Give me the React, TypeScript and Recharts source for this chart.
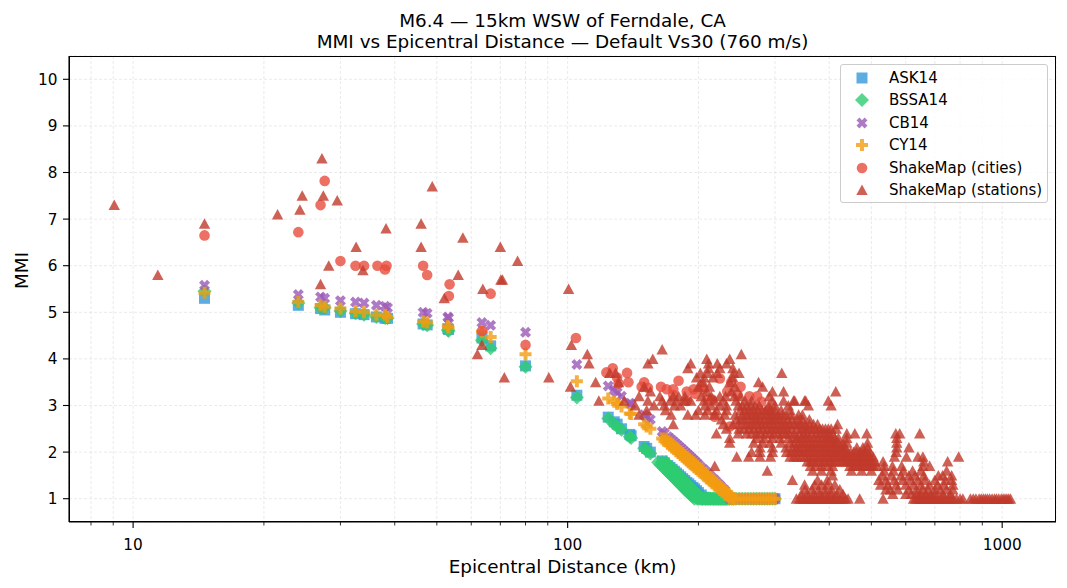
import { CartesianGrid, Scatter, ScatterChart, XAxis, YAxis } from 'recharts';

const FONT = '"DejaVu Sans", sans-serif';

const xTicks = [8, 9, 10, 20, 30, 40, 50, 60, 70, 80, 90, 100, 200, 300, 400, 500, 600, 700, 800, 900, 1000];
const xLabels = [10, 100, 1000];
const yTicks = [1, 2, 3, 4, 5, 6, 7, 8, 9, 10];

const modelDistances = [
  14.6, 24, 27, 27.6, 30, 32.5, 34, 36.3, 38, 38.5, 46.5, 47.5, 53, 53.2, 63.5, 66.5, 80, 105, 124, 128, 130, 133, 139,
  140, 150, 152, 155, 165, 167, 170, 172, 174, 176, 178, 180, 182, 184, 186, 188, 190, 192, 194, 196, 198, 200, 203,
  206, 209, 212, 215, 218, 221, 224, 227, 230, 233, 236, 240, 244, 248, 252, 256, 260, 264, 268, 272, 276, 280, 284,
  288, 292, 296, 300,
];
// the steep part of the curves is a band, sites at about the same distance scatter a little
const bandNear = [
  161.5, 163.5, 166.5, 168.4, 170.4, 172.3, 174.3, 176.2, 178.2, 180.1, 182.1, 184.1, 186, 188, 189.9, 191.9, 193.9,
  195.8, 198.7, 201.7, 204.6, 207.6, 210.5, 213.4, 216.4, 219.3, 222.2, 225.2, 228.1, 231,
];
const bandFar = [
  168.5, 170.5, 173.6, 175.6, 177.7, 179.7, 181.7, 183.8, 185.8, 187.9, 189.9, 192, 194, 196, 198.1, 200.1, 202.2, 204.2,
  207.3, 210.3, 213.4, 216.5, 219.5, 222.6, 225.6, 228.7, 231.8, 234.8, 237.9, 241,
];
const ask14 = [
  5.3, 5.15, 5.08, 5.05, 5.0, 4.97, 4.95, 4.9, 4.87, 4.87, 4.75, 4.73, 4.65, 4.63, 4.45, 4.28, 3.85, 3.22, 2.75, 2.65,
  2.6, 2.5, 2.38, 2.35, 2.12, 2.08, 2.0, 1.81, 1.77, 1.71, 1.67, 1.63, 1.59, 1.55, 1.51, 1.47, 1.43, 1.39, 1.35, 1.32,
  1.28, 1.24, 1.21, 1.17, 1.13, 1.08, 1.03, 1, 1, 1, 1, 1, 1, 1, 1, 1, 1, 1, 1, 1, 1, 1, 1, 1, 1, 1, 1, 1, 1, 1, 1, 1, 1,
];
const bssa14 = [
  5.45, 5.2, 5.1, 5.1, 5.03, 4.98, 4.95, 4.9, 4.88, 4.87, 4.75, 4.72, 4.62, 4.6, 4.4, 4.23, 3.83, 3.17, 2.72, 2.6, 2.55,
  2.48, 2.33, 2.3, 2.08, 2.03, 1.97, 1.78, 1.73, 1.66, 1.61, 1.56, 1.52, 1.47, 1.43, 1.38, 1.33, 1.29, 1.25, 1.2, 1.16,
  1.12, 1.08, 1.04, 1, 1, 1, 1, 1, 1, 1, 1, 1, 1, 1, 1, 1, 1, 1, 1, 1, 1, 1, 1, 1, 1, 1, 1, 1, 1, 1, 1, 1,
];
const cb14 = [
  5.58, 5.38, 5.33, 5.3, 5.25, 5.22, 5.2, 5.15, 5.13, 5.1, 5.0, 4.98, 4.9, 4.88, 4.78, 4.72, 4.57, 3.88, 3.42, 3.33,
  3.28, 3.2, 3.05, 3.03, 2.8, 2.75, 2.7, 2.44, 2.4, 2.33, 2.29, 2.25, 2.21, 2.17, 2.13, 2.09, 2.05, 2.01, 1.97, 1.93,
  1.89, 1.85, 1.81, 1.77, 1.73, 1.67, 1.62, 1.56, 1.51, 1.45, 1.4, 1.34, 1.29, 1.23, 1.18, 1.09, 1, 1, 1, 1, 1, 1, 1, 1,
  1, 1, 1, 1, 1, 1, 1, 1, 1,
];
const cy14 = [
  5.42, 5.22, 5.15, 5.12, 5.08, 5.03, 5.0, 4.95, 4.95, 4.9, 4.8, 4.78, 4.7, 4.67, 4.58, 4.47, 4.1, 3.52, 3.15, 3.08,
  3.03, 2.98, 2.83, 2.82, 2.6, 2.55, 2.5, 2.29, 2.24, 2.18, 2.14, 2.1, 2.06, 2.02, 1.98, 1.94, 1.9, 1.86, 1.82, 1.78,
  1.75, 1.71, 1.67, 1.64, 1.6, 1.55, 1.49, 1.44, 1.39, 1.34, 1.29, 1.24, 1.19, 1.15, 1.1, 1.05, 1, 1, 1, 1, 1, 1, 1, 1,
  1, 1, 1, 1, 1, 1, 1, 1, 1,
];

const cities: [number, number][] = [
  [14.6, 6.65], [24, 6.72], [27, 7.3], [27.6, 7.82], [30, 6.1], [32.5, 6.0], [34, 6.0], [36.5, 6.0], [38, 5.92],
  [38.3, 6.0], [46.5, 6.0], [47.5, 5.8], [53.5, 5.6], [53.3, 5.35], [63.5, 4.6], [66.5, 5.4], [80, 4.3], [104.5, 4.45],
  [122.8, 3.71], [127, 3.8], [130, 3.6], [131, 3.47], [137, 3.7], [138, 3.5], [148, 3.4], [150, 3.5], [153, 3.38],
  [164, 3.4], [169, 3.35], [175, 3.35], [175, 3.23], [180, 3.53], [188, 3.3], [188, 3.1], [195, 3.35], [197, 3.25],
  [203, 3.4], [205, 3.35], [210, 3.13], [215, 3.13], [218, 2.76], [224, 3.58], [233, 3.3], [236, 2.55], [238, 3.5],
  [246, 3.23], [250, 3.4], [262, 3.2], [273, 3.2], [279, 3.08], [291, 2.9],
];

const earlyStations: [number, number][] = [
  [9.05, 7.3], [11.4, 5.8], [14.6, 6.9], [21.5, 7.1], [24.2, 7.2], [24.5, 7.5], [27, 5.6], [27.2, 8.3], [27.4, 7.5],
  [28.2, 6.0], [29.5, 7.4], [32.6, 6.4], [33.8, 5.9], [38.2, 6.8], [46, 6.9], [46, 6.4], [48.8, 7.7], [52, 5.3],
  [56, 5.8], [57.4, 6.6], [62, 4.1], [63.5, 4.3], [63.8, 5.5], [70, 6.4], [70.2, 5.7], [70.8, 5.7], [76.7, 6.1],
  [100.5, 5.5], [102, 4.3], [165, 4.2], [111, 4.1], [251, 4.1],
];

const stationRows: [number, number[]][] = [
  [4.0, [157, 209, 236]],
  [3.9, [112, 153, 192, 211, 221, 232]],
  [3.8, [189, 211, 224, 240]],
  [3.7, [125, 129, 202, 210, 221, 241, 248, 311]],
  [3.6, [71.5, 90.5, 198, 206, 216, 240]],
  [3.5, [116, 131, 205, 236, 275]],
  [3.4, [101.5, 150, 200, 212, 243, 281]],
  [3.3, [155, 209, 238, 296, 314, 414]],
  [3.2, [146, 163, 175, 180, 186, 203, 214, 224, 231, 242, 250, 291]],
  [3.1, [118, 135, 153, 165, 172, 178, 186, 192, 206, 218, 228, 244, 256, 265, 296, 314, 331, 333, 351, 353, 398]],
  [3.0, [143, 158, 167, 176, 182, 207, 214, 224, 232, 247, 252, 258, 264, 270, 276, 290, 300, 322, 358, 404]],
  [2.9, [152, 168, 200, 210, 220, 232, 250, 256, 262, 268, 274, 280, 285, 292, 300, 310, 325]],
  [2.8, [146, 173, 189, 197, 207, 218, 230, 243, 252, 257, 262, 267, 272, 278, 285, 290, 295, 300, 305, 312, 318, 327, 340, 347]],
  [2.7, [226, 245, 250, 255, 262, 268, 273, 278, 284, 290, 295, 300, 306, 312, 320, 328, 338, 347, 360]],
  [2.6, [175, 228, 240, 248, 256, 262, 268, 274, 280, 286, 292, 298, 305, 312, 318, 325, 332, 338, 345, 352, 360, 368, 376, 418]],
  [2.5, [232, 248, 255, 262, 268, 275, 281, 288, 294, 300, 306, 312, 319, 326, 338, 345, 352, 358, 365, 372, 380, 386, 392, 398, 404, 415]],
  [2.4, [220, 247, 258, 265, 272, 278, 285, 292, 298, 305, 312, 318, 324, 332, 342, 350, 356, 365, 374, 382, 390, 398, 407, 439, 458, 488, 569, 581, 646]],
  [2.3, [236, 272, 283, 296, 308, 322, 333, 338, 345, 352, 360, 368, 376, 384, 392, 398, 405, 412, 420, 439, 572]],
  [2.2, [236, 268, 281, 292, 310, 325, 332, 340, 346, 352, 359, 366, 373, 380, 387, 394, 401, 408, 414, 420, 430, 439, 490, 572]],
  [2.1, [277, 296, 318, 330, 336, 342, 349, 356, 362, 368, 375, 382, 389, 396, 403, 410, 417, 424, 430, 436, 463, 478, 490, 572, 610]],
  [2.0, [265, 277, 296, 319, 326, 333, 340, 346, 352, 358, 365, 372, 379, 386, 393, 400, 407, 414, 421, 428, 434, 440, 448, 455, 462, 470, 476, 482, 489, 496, 570]],
  [1.9, [245, 261, 277, 293, 325, 332, 338, 345, 352, 359, 366, 373, 380, 387, 394, 401, 408, 415, 422, 429, 435, 441, 448, 455, 462, 469, 476, 483, 490, 497, 505, 565, 602, 640, 657, 794]],
  [1.8, [356, 362, 368, 375, 382, 389, 396, 403, 410, 417, 425, 432, 438, 444, 450, 457, 465, 472, 480, 487, 495, 502, 510, 532, 660, 749]],
  [1.7, [218, 362, 372, 384, 396, 407, 446, 453, 460, 468, 475, 482, 490, 498, 505, 515, 535, 559, 587, 657, 681]],
  [1.6, [288, 366, 384, 404, 450, 475, 500, 535, 562, 592, 622, 650, 745]],
  [1.5, [407, 530, 555, 585, 610, 630, 660, 713, 729, 765]],
  [1.4, [329, 376, 396, 520, 540, 565, 590, 615, 640, 664, 700, 740, 765]],
  [1.3, [351, 370, 384, 396, 412, 525, 545, 570, 600, 625, 650, 680, 710, 735, 770]],
  [1.2, [352, 365, 378, 392, 405, 423, 540, 552, 575, 610, 635, 655, 675, 700, 720, 745, 770]],
  [1.1, [345, 356, 368, 380, 392, 404, 416, 430, 560, 600, 618, 635, 650, 668, 685, 700, 730, 760]],
  [1.0, [
    336, 342, 347, 351, 356, 360, 365, 369, 374, 379, 383, 388, 393, 398, 403, 408, 413, 418, 424, 430, 436, 442, 470,
    532, 625, 632, 640, 648, 655, 662, 670, 678, 686, 694, 702, 712, 722, 730, 740, 752, 762, 772, 785, 800, 812, 845,
    858, 870, 885, 895, 905, 915, 925, 936, 948, 960, 970, 982, 995, 1005, 1015, 1025, 1035, 1045,
  ]],
];

const BAND_START = 27;
const zipModel = (values: number[], strands: number[][] = []) => [
  ...strands.flatMap((distances) => distances.map((x, i) => ({ x, y: values[BAND_START + i] }))),
  ...modelDistances.map((x, i) => ({ x, y: values[i] })),
];
const toPoints = (pairs: [number, number][]) => pairs.map(([x, y]) => ({ x, y }));
const stationData = [
  ...toPoints(earlyStations),
  ...stationRows.flatMap(([y, xs]) => xs.map((x) => ({ x, y }))),
];

function markerPath(kind: string, cx: number, cy: number) {
  const p = (pts: number[][]) => 'M' + pts.map(([a, b]) => `${cx + a},${cy + b}`).join('L') + 'Z';
  switch (kind) {
    case 'square':
      return p([[-5.5, -5.5], [5.5, -5.5], [5.5, 5.5], [-5.5, 5.5]]);
    case 'diamond':
      return p([[0, -7], [7, 0], [0, 7], [-7, 0]]);
    case 'x':
      return p([
        [-2.6, -5.5], [0, -2.8], [2.6, -5.5], [5.5, -2.6], [2.8, 0], [5.5, 2.6], [2.6, 5.5], [0, 2.8], [-2.6, 5.5], [-5.5, 2.6],
        [-2.8, 0], [-5.5, -2.6],
      ]);
    case 'plus':
      return p([
        [-2, -6], [2, -6], [2, -2], [6, -2], [6, 2], [2, 2], [2, 6], [-2, 6], [-2, 2],
        [-6, 2], [-6, -2], [-2, -2],
      ]);
    default:
      return p([[0, -5.5], [5.7, 5], [-5.7, 5]]);
  }
}

function Marker({ kind, color, cx, cy }: { kind: string; color: string; cx: number; cy: number }) {
  if (kind === 'circle') return <circle cx={cx} cy={cy} r={5.3} fill={color} fillOpacity={0.8} />;
  return <path d={markerPath(kind, cx, cy)} fill={color} fillOpacity={0.8} />;
}

const series = [
  { name: 'ASK14', kind: 'square', color: '#3498db', data: zipModel(ask14) },
  { name: 'BSSA14', kind: 'diamond', color: '#2ecc71', data: zipModel(bssa14, [bandNear, bandFar]) },
  { name: 'CB14', kind: 'x', color: '#9b59b6', data: zipModel(cb14) },
  { name: 'CY14', kind: 'plus', color: '#f39c12', data: zipModel(cy14, [bandFar]) },
  { name: 'ShakeMap (cities)', kind: 'circle', color: '#e74c3c', data: toPoints(cities) },
  { name: 'ShakeMap (stations)', kind: 'triangle', color: '#c0392b', data: stationData },
];

function XTick({ x, y, payload }: any) {
  const major = xLabels.includes(payload.value);
  return (
    <g>
      <line x1={x} x2={x} y1={y - 8} y2={y - 8 + (major ? 6 : 3.5)} stroke="#000" strokeWidth={major ? 1.1 : 0.8} />
      {major && (
        <text x={x} y={y + 20} textAnchor="middle" fontSize={15.3} fontFamily={FONT} fill="#000">
          {payload.value}
        </text>
      )}
    </g>
  );
}

function YTick({ x, y, payload }: any) {
  return (
    <g>
      <line x1={x + 2} x2={x + 8} y1={y} y2={y} stroke="#000" strokeWidth={1.1} />
      <text x={x - 3.5} y={y + 5.5} textAnchor="end" fontSize={15.3} fontFamily={FONT} fill="#000">
        {payload.value}
      </text>
    </g>
  );
}

export default function App() {
  return (
    <div style={{ position: 'fixed', left: 0, top: 0, width: 1067, height: 588, background: '#fff', fontFamily: FONT }}>
      <div style={{ position: 'absolute', left: 69, width: 987, top: 10, textAlign: 'center', fontSize: 18.4, lineHeight: '21px', color: '#000' }}>
        <div>M6.4 — 15km WSW of Ferndale, CA</div>
        <div>MMI vs Epicentral Distance — Default Vs30 (760 m/s)</div>
      </div>
      <ScatterChart width={1067} height={588} margin={{ top: 56, right: 11, bottom: 0, left: 0 }}>
        <CartesianGrid stroke="#dcdcdc" strokeWidth={0.6} strokeDasharray="3 2" />
        <XAxis
          type="number"
          dataKey="x"
          scale="log"
          domain={[7.12, 1330]}
          ticks={xTicks}
          interval={0}
          height={66}
          tickLine={false}
          axisLine={{ stroke: '#000', strokeWidth: 1.1 }}
          tick={XTick}
          label={{ value: 'Epicentral Distance (km)', position: 'insideBottom', offset: 15, fontSize: 18.4, fontFamily: FONT, fill: '#000' }}
        />
        <YAxis
          type="number"
          dataKey="y"
          domain={[0.5, 10.5]}
          ticks={yTicks}
          interval={0}
          width={69}
          tickLine={false}
          axisLine={{ stroke: '#000', strokeWidth: 1.1 }}
          tick={YTick}
          label={{ value: 'MMI', angle: -90, position: 'insideLeft', offset: 21, fontSize: 18.4, fontFamily: FONT, fill: '#000' }}
        />
        {series.map((s) => (
          <Scatter
            key={s.name}
            name={s.name}
            data={s.data}
            isAnimationActive={false}
            shape={(props: any) => <Marker kind={s.kind} color={s.color} cx={props.cx} cy={props.cy} />}
          />
        ))}
      </ScatterChart>
      <div style={{ position: 'absolute', left: 69, top: 56, width: 987, height: 466, boxSizing: 'border-box', border: '1px solid #000', pointerEvents: 'none' }} />
      <div style={{ position: 'absolute', left: 840, top: 64, width: 208, height: 139, boxSizing: 'border-box', border: '1px solid #ccc', borderRadius: 3, background: 'rgba(255,255,255,0.8)' }}>
        {series.map((s, i) => (
          <div key={s.name} style={{ position: 'absolute', left: 0, top: 2 + i * 22.45, height: 22, display: 'flex', alignItems: 'center', fontSize: 15, color: '#000', whiteSpace: 'nowrap' }}>
            <svg width={48} height={22} style={{ flex: 'none' }}>
              <Marker kind={s.kind} color={s.color} cx={21} cy={11} />
            </svg>
            {s.name}
          </div>
        ))}
      </div>
    </div>
  );
}
